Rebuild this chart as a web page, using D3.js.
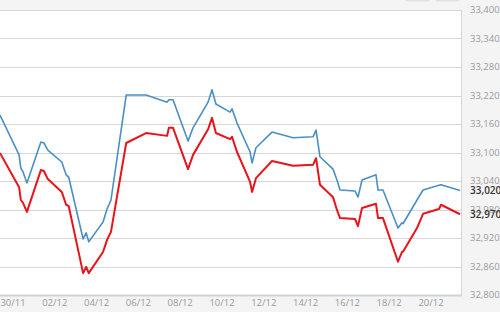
<!DOCTYPE html>
<html><head><meta charset="utf-8">
<script src="https://cdn.jsdelivr.net/npm/d3@7"></script>
<style>
html,body{margin:0;padding:0;background:#f4f4f4;}
svg{display:block;}
text{font-family:"Open Sans",sans-serif;}
</style></head>
<body><svg id="c" width="500" height="312"></svg>
<script>
// ---- data ----
const times = [
 "2014-11-29T09:00","2014-11-30T07:00","2014-11-30T09:00","2014-11-30T11:30","2014-11-30T16:00",
 "2014-12-01T08:00","2014-12-01T11:30","2014-12-01T16:00","2014-12-02T08:00","2014-12-02T13:00",
 "2014-12-02T16:00","2014-12-03T08:30","2014-12-03T12:00","2014-12-03T15:00","2014-12-04T07:30",
 "2014-12-04T12:00","2014-12-04T16:30","2014-12-05T10:00","2014-12-06T08:45","2014-12-07T09:00",
 "2014-12-07T11:00","2014-12-07T15:45","2014-12-08T09:00","2014-12-08T14:45","2014-12-09T08:00",
 "2014-12-09T12:30","2014-12-09T17:00","2014-12-10T09:15","2014-12-10T11:30","2014-12-10T17:15",
 "2014-12-11T08:15","2014-12-11T10:30","2014-12-11T15:00","2014-12-12T09:25","2014-12-13T09:30",
 "2014-12-14T08:30","2014-12-14T12:00","2014-12-14T16:30","2014-12-15T07:30","2014-12-15T12:00",
 "2014-12-15T15:30","2014-12-16T08:45","2014-12-16T12:10","2014-12-16T16:45","2014-12-17T08:50",
 "2014-12-17T11:10","2014-12-17T16:50","2014-12-18T10:05","2014-12-18T14:40","2014-12-18T15:50",
 "2014-12-19T07:55","2014-12-19T14:50","2014-12-20T09:10","2014-12-20T11:30","2014-12-21T09:20"
];
const blueValues = [
 33179,33095,33067,33059,33036,33122,33120,33105,33080,33053,
 33048,32918,32931,32912,32954,32981,33000,33221,33221,33206,
 33211,33211,33124,33152,33206,33232,33202,33185,33192,33162,
 33101,33078,33110,33143,33131,33133,33147,33091,33065,33042,
 33021,33019,33006,33042,33053,33021,33021,32941,32952,32950,
 33000,33021,33031,33032,33020
];
const redValues = [
 33099,33027,33000,32994,32975,33063,33061,33044,33017,32990,
 32987,32846,32859,32846,32891,32916,32933,33120,33141,33135,
 33152,33152,33065,33095,33149,33173,33141,33128,33133,33101,
 33038,33017,33046,33082,33072,33074,33088,33032,33006,32979,
 32962,32960,32945,32983,32992,32962,32962,32870,32891,32891,
 32941,32971,32981,32990,32970
];
const yTicks = [32800,32860,32920,32980,33040,33100,33160,33220,33280,33340,33400];
const xTickLabels = ["30/11","02/12","04/12","06/12","08/12","10/12","12/12","14/12","16/12","18/12","20/12"];
const xTickDates = ["2014-11-30","2014-12-02","2014-12-04","2014-12-06","2014-12-08","2014-12-10",
                    "2014-12-12","2014-12-14","2014-12-16","2014-12-18","2014-12-20"];
const lastBlue = 33020, lastRed = 32970;

// ---- layout ----
const svg = d3.select("#c");
const W = 500, H = 312;
const plotL = 0, plotR = 461, plotT = 10, plotB = 295;
const parse = d3.timeParse("%Y-%m-%dT%H:%M");
const parseD = d3.timeParse("%Y-%m-%d");

const x = d3.scaleTime()
  .domain([parse("2014-11-29T09:04"), parse("2014-12-21T10:26")])
  .range([plotL, plotR]);
const y = d3.scaleLinear().domain([32800, 33400]).range([plotB, plotT]);

// page background
svg.append("rect").attr("width", W).attr("height", H).attr("fill", "#f4f4f4");

// top buttons (partially visible)
svg.append("rect").attr("x", 405).attr("y", -10).attr("width", 25).attr("height", 11.5).attr("rx", 3)
  .attr("fill", "#e2e2e2");
svg.append("rect").attr("x", 435).attr("y", -10).attr("width", 25).attr("height", 11.5).attr("rx", 3)
  .attr("fill", "#e2e2e2");

// plot area
svg.append("rect").attr("x", plotL - 2).attr("y", plotT).attr("width", plotR - plotL + 2)
  .attr("height", plotB - plotT).attr("fill", "#ffffff");

// grid lines
svg.append("g").selectAll("line").data(yTicks.filter(v => v !== 32800)).join("line")
  .attr("x1", plotL).attr("x2", plotR)
  .attr("y1", d => Math.round(y(d)) + 0.5).attr("y2", d => Math.round(y(d)) + 0.5)
  .attr("stroke", "#d6d6d6").attr("stroke-width", 1);

// right border
svg.append("line").attr("x1", plotR + 0.5).attr("x2", plotR + 0.5).attr("y1", plotT).attr("y2", plotB)
  .attr("stroke", "#d6d6d6");

// clip
svg.append("clipPath").attr("id", "clip").append("rect")
  .attr("x", plotL).attr("y", plotT - 5).attr("width", plotR - plotL).attr("height", plotB - plotT + 5);

const pts = times.map(parse);
const line = d3.line().x(d => x(d[0])).y(d => y(d[1]));
const g = svg.append("g").attr("clip-path", "url(#clip)");
g.append("path").datum(pts.map((t, i) => [t, blueValues[i]])).attr("d", line)
  .attr("fill", "none").attr("stroke", "#4a8fc3").attr("stroke-width", 1.6).attr("stroke-linejoin", "round");
g.append("path").datum(pts.map((t, i) => [t, redValues[i]])).attr("d", line)
  .attr("fill", "none").attr("stroke", "#e8141c").attr("stroke-width", 2).attr("stroke-linejoin", "round");

// bottom axis line
svg.append("line").attr("x1", plotL).attr("x2", plotR + 1).attr("y1", plotB + 0.5).attr("y2", plotB + 0.5)
  .attr("stroke", "#cfd3d8").attr("stroke-width", 2);

// x labels
svg.append("g").selectAll("text").data(xTickDates).join("text")
  .attr("x", d => x(parseD(d))).attr("y", 306)
  .attr("text-anchor", "middle").attr("font-size", 9.5).attr("fill", "#9a9a9a")
  .text((d, i) => xTickLabels[i]);

// y labels (right)
const fmt = d3.format(",");
svg.append("g").selectAll("text").data(yTicks).join("text")
  .attr("x", 470).attr("y", d => y(d)).attr("dy", "0.35em")
  .attr("font-size", 9.5).attr("fill", "#9a9a9a")
  .text(d => fmt(d));

// current value labels
[lastBlue, lastRed].forEach(v => {
  svg.append("rect").attr("x", 469).attr("y", y(v) - 1).attr("width", 31).attr("height", 7).attr("fill", "#f4f4f4");
  svg.append("text").attr("x", 470).attr("y", y(v)).attr("dy", "0.35em")
    .attr("font-size", 10).attr("font-weight", 600).attr("fill", "#333333")
    .text(fmt(v));
});
</script></body></html>
